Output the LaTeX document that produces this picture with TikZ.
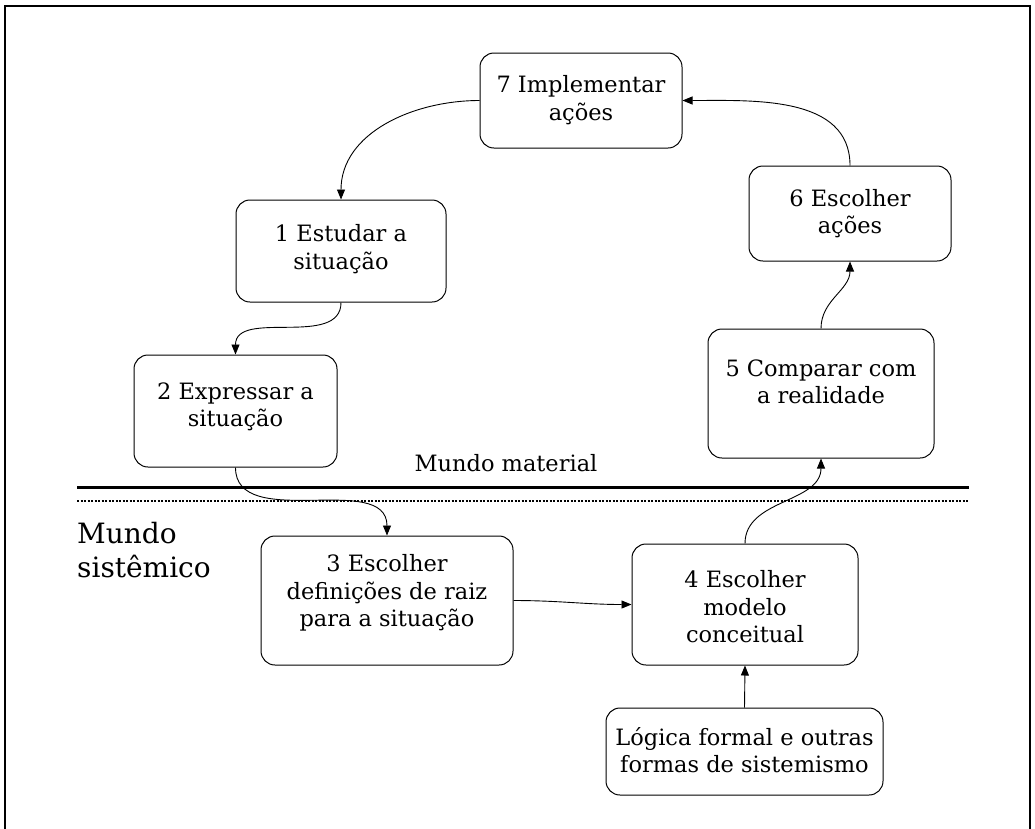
\documentclass[tikz,border=0pt]{standalone}
\usepackage{fontspec}
\setmainfont{DejaVu Serif}
\usetikzlibrary{arrows.meta,calc}
\begin{document}
\begin{tikzpicture}[x=1pt,y=1pt,
  box/.style={draw, line width=1pt, rounded corners=14pt, inner sep=0pt},
  txt/.style={align=center, font=\fontsize{22.5}{27.5}\selectfont, inner sep=0pt},
  bigtxt/.style={align=left, font=\fontsize{28}{34}\selectfont, inner sep=0pt},
  arr/.style={-{Triangle[length=10pt,width=8pt]}, line width=0.9pt},
]
\useasboundingbox (0,0) rectangle (1035,-828);
\draw[line width=1.5pt] (5,-835) -- (5,-6) -- (1030,-6) -- (1030,-835);

\node[box, minimum width=202pt, minimum height=95pt]  (b7) at (581,-100.5) {};
\node[box, minimum width=210pt, minimum height=102pt] (b1) at (341,-251) {};
\node[box, minimum width=202pt, minimum height=95pt]  (b6) at (850,-213.5) {};
\node[box, minimum width=203pt, minimum height=112pt] (b2) at (235.5,-411) {};
\node[box, minimum width=226pt, minimum height=129pt] (b5) at (821,-393.5) {};
\node[box, minimum width=252pt, minimum height=129pt] (b3) at (387,-600.5) {};
\node[box, minimum width=226pt, minimum height=121pt] (b4) at (745,-604.5) {};
\node[box, minimum width=277pt, minimum height=87pt]  (bL) at (744.5,-751.5) {};

\node[txt] (t7) at ([yshift=0.5pt]b7.center) {7 Implementar\\ações};
\node[txt] (t1) at ([yshift=2pt]b1.center) {1 Estudar a\\situação};
\node[txt] (t6) at (b6.center) {6 Escolher\\ações};
\node[txt] (t2) at ([yshift=4pt]b2.center) {2 Expressar a\\situação};
\node[txt] (t5) at ([yshift=11.5pt]b5.center) {5 Comparar com\\a realidade};
\node[txt] (t3) at ([yshift=7.5pt]b3.center) {3 Escolher\\definições de raiz\\para a situação};
\node[txt] (t4) at ([yshift=-2.5pt]b4.center) {4 Escolher\\modelo\\conceitual};
\node[txt] (tL) at ([yshift=1.5pt]bL.center) {Lógica formal e outras\\formas de sistemismo};

\node[txt] (mm) at (506,-463) {Mundo material};
\node[bigtxt, anchor=west] (ms) at (77,-550) {Mundo\\sistêmico};

\coordinate (l1a) at (77,-487);
\coordinate (l1b) at (969,-487);
\coordinate (l2a) at (77,-501);
\coordinate (l2b) at (969,-501);
\draw[line width=3pt] (l1a) -- (l1b);
\draw[line width=2pt, dash pattern=on 2pt off 1.5pt] (l2a) -- (l2b);

\draw[arr] (b7.west) to[out=180,in=90] (b1.north);
\draw[arr] (b6.north) to[out=90,in=0] (b7.east);
\draw[arr] (b1.south) to[out=-90,in=90] (b2.north);
\draw[arr] (b5.north) to[out=90,in=-90] (b6.south);
\draw[arr] (b2.south) to[out=-90,in=90] (b3.north);
\draw[arr] (b4.north) to[out=90,in=-90] (b5.south);
\draw[arr] (b3.east) to[out=0,in=180] (b4.west);
\draw[arr] (bL.north) -- (b4.south);
\end{tikzpicture}
\end{document}
